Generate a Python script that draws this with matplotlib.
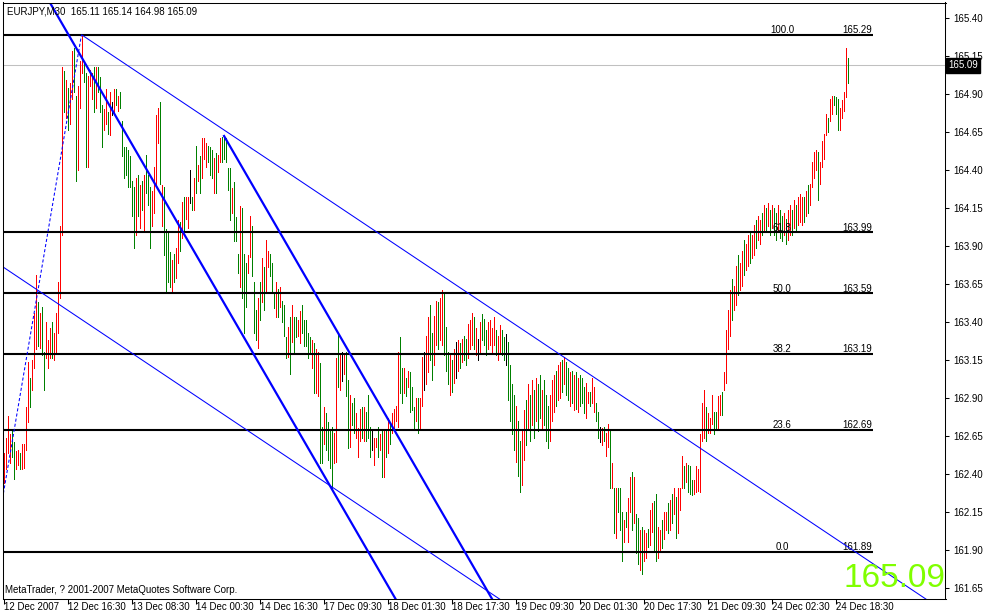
import matplotlib
matplotlib.use("Agg")
import matplotlib.pyplot as plt
from matplotlib.transforms import offset_copy, blended_transform_factory

# ---------------- data ----------------
symbol_title = "EURJPY,M30  165.11 165.14 164.98 165.09"
copyright_text = "MetaTrader, ? 2001-2007 MetaQuotes Software Corp."
last_price = 165.09

highs = [
    162.54, 162.64, 162.78, 162.66, 162.68, 162.61, 162.55, 162.56, 162.54, 162.60,
    162.60, 162.84, 163.14, 163.03, 163.15, 163.46, 163.71, 163.53, 163.46, 163.50,
    163.20, 163.40, 163.28, 163.36, 163.40, 163.33, 163.46, 163.66, 164.03, 165.08,
    165.05, 164.99, 164.94, 164.97, 165.18, 165.20, 164.89, 164.95, 165.12, 165.29,
    165.12, 165.04, 165.02, 165.06, 165.04, 165.08, 165.08, 165.08, 165.01, 164.83,
    164.80, 164.93, 164.78, 164.91, 164.85, 164.93, 164.93, 164.89, 164.91, 164.72,
    164.55, 164.55, 164.53, 164.49, 164.33, 164.29, 164.35, 164.37, 164.30, 164.33,
    164.37, 164.50, 164.37, 164.29, 164.26, 164.42, 164.76, 164.81, 164.85, 164.30,
    164.29, 164.01, 163.99, 163.86, 163.81, 163.85, 163.89, 164.07, 164.06, 164.19,
    164.22, 164.22, 164.22, 164.40, 164.22, 164.35, 164.56, 164.43, 164.49, 164.61,
    164.61, 164.58, 164.56, 164.55, 164.53, 164.48, 164.51, 164.50, 164.61, 164.62,
    164.62, 164.61, 164.41, 164.41, 164.28, 164.32, 164.09, 163.85, 164.16, 164.15,
    163.85, 163.79, 163.84, 164.10, 164.03, 163.66, 163.48, 163.56, 163.66, 163.82,
    163.76, 163.94, 163.87, 163.85, 163.79, 163.60, 163.66, 163.62, 163.63, 163.54,
    163.51, 163.30, 163.37, 163.43, 163.51, 163.43, 163.43, 163.41, 163.47, 163.51,
    163.41, 163.41, 163.33, 163.30, 163.28, 163.26, 163.22, 163.20, 163.13, 162.71,
    162.84, 162.80, 162.74, 162.69, 162.71, 162.67, 163.16, 163.33, 163.18, 163.20,
    163.18, 163.20, 163.02, 162.92, 162.87, 162.90, 162.80, 162.70, 162.83, 162.84,
    162.84, 162.81, 162.92, 162.71, 162.68, 162.64, 162.64, 162.71, 162.66, 162.68,
    162.68, 162.69, 162.77, 162.74, 162.80, 162.83, 162.85, 163.20, 163.30, 163.10,
    163.10, 163.03, 163.08, 163.07, 162.97, 162.84, 162.90, 162.90, 162.90, 163.17,
    163.20, 163.31, 163.43, 163.51, 163.33, 163.44, 163.54, 163.53, 163.56, 163.61,
    163.59, 163.37, 163.20, 163.18, 163.15, 163.22, 163.27, 163.28, 163.26, 163.29,
    163.31, 163.29, 163.39, 163.41, 163.46, 163.43, 163.36, 163.29, 163.40, 163.45,
    163.42, 163.35, 163.40, 163.41, 163.36, 163.43, 163.35, 163.31, 163.38, 163.35,
    163.30, 163.32, 163.27, 163.12, 162.99, 162.92, 162.85, 162.75, 162.62, 162.69,
    162.82, 162.89, 162.99, 162.92, 163.02, 162.95, 163.03, 162.99, 163.05, 162.95,
    163.02, 162.92, 162.85, 162.92, 163.02, 163.05, 163.08, 163.12, 163.14, 163.15,
    163.17, 163.14, 163.10, 163.07, 163.08, 163.05, 163.07, 163.03, 163.05, 163.03,
    162.97, 163.00, 162.94, 162.94, 163.03, 162.97, 162.87, 162.81, 162.71, 162.70,
    162.71, 162.67, 162.73, 162.69, 162.47, 162.31, 162.31, 162.31, 162.31, 162.15,
    162.10, 162.15, 162.24, 162.38, 162.41, 162.38, 162.14, 162.11, 162.03, 162.05,
    162.03, 162.01, 162.04, 162.16, 162.21, 162.22, 162.27, 162.05, 162.03, 162.10,
    162.15, 162.15, 162.21, 162.23, 162.27, 162.31, 162.25, 162.31, 162.31, 162.52,
    162.45, 162.47, 162.46, 162.45, 162.36, 162.36, 162.45, 162.43, 162.66, 162.87,
    162.95, 162.84, 162.80, 162.77, 162.92, 162.81, 162.81, 162.91, 162.92, 162.94,
    163.07, 163.35, 163.48, 163.61, 163.68, 163.64, 163.77, 163.84, 163.79, 163.87,
    163.94, 163.91, 163.97, 164.00, 163.97, 164.04, 164.07, 164.10, 164.07, 164.12,
    164.17, 164.15, 164.18, 164.14, 164.17, 164.15, 164.12, 164.17, 164.14, 164.10,
    164.12, 164.08, 164.14, 164.17, 164.14, 164.20, 164.17, 164.22, 164.24, 164.22,
    164.22, 164.26, 164.30, 164.31, 164.45, 164.52, 164.53, 164.52, 164.45, 164.59,
    164.64, 164.77, 164.74, 164.87, 164.89, 164.89, 164.88, 164.87, 164.81, 164.86,
    164.91, 165.20, 165.14,
]

lows = [
    162.34, 162.43, 162.54, 162.47, 162.51, 162.37, 162.43, 162.46, 162.43, 162.43,
    162.44, 162.56, 162.74, 162.84, 162.95, 163.10, 163.22, 163.24, 163.23, 163.18,
    162.95, 163.16, 163.10, 163.16, 163.16, 163.15, 163.20, 163.33, 163.56, 163.97,
    164.78, 164.74, 164.66, 164.70, 164.87, 164.91, 164.33, 164.40, 164.81, 165.04,
    164.98, 164.42, 164.42, 164.95, 164.87, 164.78, 164.81, 164.91, 164.78, 164.55,
    164.66, 164.70, 164.64, 164.63, 164.76, 164.78, 164.83, 164.79, 164.81, 164.49,
    164.35, 164.37, 164.29, 164.29, 164.10, 163.89, 163.97, 164.10, 164.02, 164.14,
    164.00, 164.25, 164.17, 163.89, 164.03, 164.12, 164.30, 164.58, 164.31, 164.03,
    163.84, 163.60, 163.66, 163.63, 163.59, 163.66, 163.69, 163.79, 163.87, 163.95,
    163.99, 164.08, 164.02, 164.18, 164.14, 164.14, 164.25, 164.33, 164.25, 164.35,
    164.47, 164.42, 164.45, 164.37, 164.35, 164.25, 164.25, 164.39, 164.45, 164.45,
    164.47, 164.45, 164.27, 164.07, 164.12, 163.93, 163.93, 163.72, 163.63, 163.56,
    163.33, 163.50, 163.72, 163.83, 163.70, 163.33, 163.28, 163.23, 163.41, 163.53,
    163.48, 163.59, 163.76, 163.70, 163.60, 163.49, 163.43, 163.43, 163.50, 163.40,
    163.31, 163.16, 163.17, 163.06, 163.27, 163.20, 163.30, 163.31, 163.26, 163.33,
    163.24, 163.24, 163.16, 163.20, 163.10, 162.93, 162.93, 162.91, 162.47, 162.47,
    162.60, 162.56, 162.49, 162.44, 162.31, 162.47, 162.48, 162.97, 162.95, 163.01,
    163.06, 162.91, 162.57, 162.58, 162.72, 162.67, 162.64, 162.51, 162.62, 162.64,
    162.62, 162.62, 162.64, 162.51, 162.56, 162.46, 162.58, 162.51, 162.56, 162.38,
    162.38, 162.51, 162.54, 162.60, 162.67, 162.69, 162.75, 162.71, 162.93, 162.87,
    162.93, 162.91, 162.97, 162.81, 162.82, 162.69, 162.75, 162.67, 162.70, 162.85,
    162.95, 162.99, 163.07, 163.15, 163.02, 163.12, 163.25, 163.22, 163.28, 163.25,
    163.18, 163.08, 162.99, 162.92, 162.94, 163.00, 163.03, 163.08, 163.10, 163.14,
    163.15, 163.12, 163.16, 163.22, 163.25, 163.22, 163.18, 163.15, 163.20, 163.28,
    163.25, 163.18, 163.22, 163.25, 163.20, 163.25, 163.18, 163.15, 163.20, 163.18,
    163.15, 163.12, 162.89, 162.75, 162.66, 162.56, 162.48, 162.39, 162.28, 162.33,
    162.49, 162.59, 162.69, 162.62, 162.72, 162.64, 162.75, 162.68, 162.77, 162.69,
    162.72, 162.62, 162.57, 162.62, 162.75, 162.81, 162.85, 162.89, 162.90, 162.94,
    162.99, 162.92, 162.89, 162.85, 162.87, 162.82, 162.83, 162.81, 162.85, 162.87,
    162.80, 162.77, 162.87, 162.85, 162.87, 162.81, 162.75, 162.64, 162.61, 162.59,
    162.62, 162.52, 162.58, 162.31, 162.31, 162.01, 161.98, 162.15, 162.03, 161.83,
    161.95, 162.05, 161.95, 162.15, 162.03, 162.08, 161.88, 161.81, 161.77, 161.74,
    161.83, 161.85, 161.92, 161.93, 162.02, 161.90, 161.83, 161.85, 161.90, 161.91,
    161.97, 162.03, 162.01, 162.03, 162.08, 162.14, 161.98, 162.01, 162.16, 162.31,
    162.31, 162.35, 162.28, 162.27, 162.26, 162.27, 162.28, 162.29, 162.28, 162.62,
    162.64, 162.62, 162.67, 162.67, 162.73, 162.66, 162.69, 162.69, 162.79, 162.79,
    162.95, 163.00, 163.22, 163.31, 163.41, 163.48, 163.51, 163.58, 163.61, 163.64,
    163.71, 163.74, 163.77, 163.79, 163.82, 163.84, 163.89, 163.94, 163.91, 163.97,
    163.99, 164.00, 164.03, 163.97, 164.02, 163.97, 163.94, 163.99, 163.95, 163.93,
    163.97, 163.91, 163.94, 163.97, 163.97, 164.02, 163.99, 164.04, 164.06, 164.04,
    164.06, 164.10, 164.12, 164.17, 164.29, 164.35, 164.40, 164.20, 164.31, 164.42,
    164.47, 164.63, 164.65, 164.72, 164.77, 164.83, 164.77, 164.66, 164.66, 164.74,
    164.79, 164.88, 164.97,
]

# R = up bar (red), G = down bar (green), K = unchanged (black)
bar_dirs = (
    "RRRRGGRRGR" "RRRGRRRGRG" "GRRRGRRRRR" "GRGRRGGRRR" "GGRRRGRGGG"
    "RRGRKRGRGG" "GGGGGGRGRG" "RGGGRRRRGR" "GGGGRGRRGR" "GRRKGRGRGR"
    "RRGGGRGRRG" "GGGGRGGGRG" "GGRRGGGRGR" "GRRGGGRGRG" "GGRGRGGRRG"
    "GGGGRGRRGG" "RGGGGRRGRK" "RGGRGGRRRG" "RGGGKRRGRG" "RGRGRRRRGG"
    "RGRGGGRGRRK"
    "RRGGRRGRRG" "GGRGRKRGRG" "GRRRGRKRGG" "GRRRRGRRGG" "KGGGGRGGRR"
    "GRGRGRGGRG" "GGRRRGRRGR" "GGRGRGRGGG" "RRGRRGGKRG" "RRGRGRGGGR"
    "GRRGRGGRGR" "RGRRGGRRGR" "RGRGRGRRRG" "RGGGRRRRRR" "GRRRGGRRGR"
    "RRRGRRGRRG" "RRGRRGRRGR" "GRGRGGRGGR" "GRRGRGRRRG" "RGRRRRGRRR"
    "RGRRGGGRRR" "RG"
)

time_labels = ["12 Dec 2007", "12 Dec 16:30", "13 Dec 08:30", "14 Dec 00:30",
               "14 Dec 16:30", "17 Dec 09:30", "18 Dec 01:30", "18 Dec 17:30",
               "19 Dec 09:30", "20 Dec 01:30", "20 Dec 17:30", "21 Dec 09:30",
               "24 Dec 02:30", "24 Dec 18:30"]
bars_per_label = 32

price_ticks = [165.40, 165.15, 164.90, 164.65, 164.40, 164.15, 163.90, 163.65,
               163.40, 163.15, 162.90, 162.65, 162.40, 162.15, 161.90, 161.65]

fib_levels = ["100.0", "61.8", "50.0", "38.2", "23.6", "0.0"]
fib_prices = [165.29, 163.99, 163.59, 163.19, 162.69, 161.89]

# trend-line anchors: (bar index, price)
steep_line_1 = [(32.5, 165.29), (195.5, 161.59)]
steep_line_2 = [(110.0, 164.63), (243.75, 161.59)]
channel_top = [(39.0, 165.29), (459.75, 161.59)]
channel_bottom = [(0.0, 163.76), (200.0, 162.00)]
fib_anchor = [(-5.0, 161.89), (39.0, 165.29)]

assert len(highs) == len(lows) == len(bar_dirs), (len(highs), len(lows), len(bar_dirs))

# ---------------- figure ----------------
W, H = 983, 615
fig = plt.figure(figsize=(W / 100, H / 100), dpi=100)
fig.patch.set_facecolor("white")
ax_l, ax_r, ax_t, ax_b = 2.5, 945.5, 2.5, 598.5
ax = fig.add_axes([ax_l / W, (H - ax_b) / H, (ax_r - ax_l) / W, (ax_b - ax_t) / H])
ax.set_facecolor("white")

px_per_bar = 2.0
x0 = -0.5
x1 = x0 + (ax_r - ax_l) / px_per_bar
ax.set_xlim(x0, x1)
y_top = 165.40 + (18 - ax_t) / 152.0
y_bot = 165.40 - (ax_b - 18) / 152.0
ax.set_ylim(y_bot, y_top)

small_font = dict(family=["Liberation Sans", "DejaVu Sans"], size=7)

# current price line
ax.axhline(last_price, color="#C0C0C0", lw=0.75, zorder=1)

# bars
cmap = {"R": "#FF0000", "G": "#008000", "K": "#000000"}
n = len(highs)
xs = list(range(n))
ax.vlines(xs, lows, highs, colors=[cmap[c] for c in bar_dirs],
          linewidth=0.5, antialiased=False, zorder=2)

# fibonacci levels
fib_end = (873 - 3.5) / px_per_bar
fib_label_x = (782 - 3.5) / px_per_bar
fib_price_x = (872 - 3.5) / px_per_bar
lift = offset_copy(ax.transData, fig=fig, x=0, y=1.5, units="dots")
for lvl, p in zip(fib_levels, fib_prices):
    ax.plot([x0, fib_end], [p, p], color="black", lw=1.5, solid_capstyle="butt", zorder=4)
    ax.text(fib_label_x, p, lvl, ha="center", va="baseline", transform=lift,
            zorder=5, **small_font)
    ax.text(fib_price_x, p, f"{p:.2f}", ha="right", va="baseline", transform=lift,
            zorder=5, **small_font)

# trend lines
def line_points(anchors, start=None):
    (xa, ya), (xb, yb) = anchors
    slope = (yb - ya) / (xb - xa)
    xs_ = [x0 - 50 if start is None else start, x1 + 50]
    return xs_, [ya + slope * (x - xa) for x in xs_]

for anchors, start, lw in [(steep_line_1, None, 1.6), (steep_line_2, steep_line_2[0][0], 1.6),
                           (channel_top, channel_top[0][0], 0.75), (channel_bottom, None, 0.75)]:
    lx, ly = line_points(anchors, start)
    ax.plot(lx, ly, color="#0000FF", lw=lw, zorder=6, solid_capstyle="butt")

(fx0, fy0), (fx1, fy1) = fib_anchor
ax.plot([fx0, fx1], [fy0, fy1], color="#0000FF", lw=0.75, linestyle=(0, (3, 2)), zorder=6)

# axes styling
for s in ax.spines.values():
    s.set_color("black")
    s.set_linewidth(0.75)
    s.set_zorder(10)

ax.yaxis.tick_right()
ax.set_yticks(price_ticks)
ax.set_yticklabels([f"{p:.2f}" for p in price_ticks])
ax.tick_params(axis="y", which="both", direction="out", length=3, width=0.75,
               pad=2.5, right=True, left=False, labelright=True, labelleft=False,
               colors="black")
for lab in ax.get_yticklabels():
    lab.set_fontfamily(small_font["family"])
    lab.set_fontsize(small_font["size"])

label_positions = [i * bars_per_label for i in range(len(time_labels))]
ax.set_xticks(label_positions)
ax.set_xticklabels([])
ax.tick_params(axis="x", direction="out", length=3.5, width=0.75, colors="black")
xlab_tr = offset_copy(blended_transform_factory(ax.transData, ax.transAxes),
                      fig=fig, x=1.5, y=-4, units="dots")
for pos, lab in zip(label_positions, time_labels):
    ax.text(pos - 0.5, 0, lab, ha="left", va="top", transform=xlab_tr, clip_on=False,
            **small_font)

# texts
fig.text(7 / W, 1 - 14 / H, symbol_title, ha="left", va="baseline", **small_font)
fig.text(5 / W, 1 - 593 / H, copyright_text, ha="left", va="baseline", **small_font)
fig.text(843 / W, 1 - 587 / H, f"{last_price:.2f}", ha="left", va="baseline",
         family=["Liberation Sans", "DejaVu Sans"], size=24, color="#80FF00")

# last price tag on axis
fig.text(948 / W, 1 - 65.5 / H, f"{last_price:.2f}", ha="left", va="center",
         color="white", zorder=20, family=["Liberation Sans", "DejaVu Sans"], size=7,
         bbox=dict(boxstyle="square,pad=0.25", fc="black", ec="black"))

fig.savefig("out.png", dpi=100)
